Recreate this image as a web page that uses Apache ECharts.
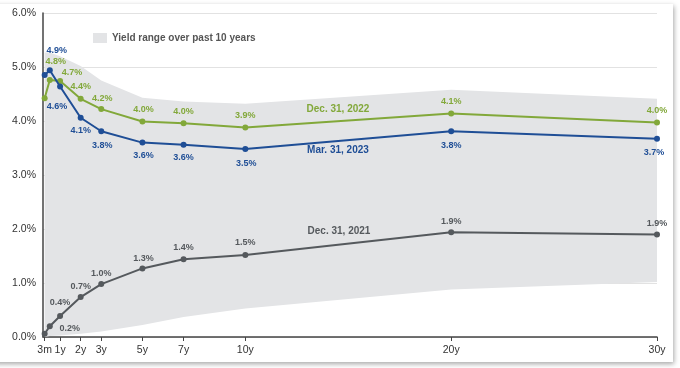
<!DOCTYPE html>
<html>
<head>
<meta charset="utf-8">
<script src="https://cdn.jsdelivr.net/npm/echarts@6/dist/echarts.min.js"></script>
<style>
html,body{margin:0;padding:0;background:#fff;}
#wrap{position:relative;width:680px;height:368px;overflow:hidden;}
#card{position:absolute;left:-10px;top:4px;width:683px;height:358px;background:#fff;box-shadow:1px 2px 5px rgba(0,0,0,0.35);}
#chart{position:absolute;left:0;top:0;width:680px;height:368px;}
</style>
</head>
<body>
<div id="wrap"><div id="card"></div><div id="chart"></div></div>
<script>
// Maturities in years
var maturities = [0.25, 0.5, 1, 2, 3, 5, 7, 10, 20, 30];
var xTickValues = [0.25, 1, 2, 3, 5, 7, 10, 20, 30];
var xTickLabels = ['3m', '1y', '2y', '3y', '5y', '7y', '10y', '20y', '30y'];

var mar2023 = [4.85, 4.94, 4.64, 4.06, 3.81, 3.60, 3.56, 3.48, 3.81, 3.67];
var dec2022 = [4.42, 4.76, 4.74, 4.41, 4.22, 3.99, 3.96, 3.88, 4.14, 3.97];
var dec2021 = [0.06, 0.20, 0.39, 0.74, 0.98, 1.27, 1.44, 1.52, 1.94, 1.90];

var rangeHigh = [5.27, 5.27, 5.20, 5.02, 4.75, 4.43, 4.36, 4.32, 4.58, 4.41];
var rangeLow  = [0.00, 0.02, 0.03, 0.06, 0.10, 0.22, 0.37, 0.53, 0.88, 1.02];

var seriesNames = ['Mar. 31, 2023', 'Dec. 31, 2022', 'Dec. 31, 2021'];
var bandName = 'Yield range over past 10 years';

// label placement (center offsets in px), null = no label
var blueLabelOffsets = [null, [7,-20], [-3,20], [0,13], [1,14], [1,13], [0,13], [1,14], [0,14], [-3,14]];
var greenLabelOffsets = [null, [6,-18], [12,-9], [0,-12], [1,-11], [1,-12], [0,-12], [0,-12], [0,-12], [0,-12]];
var grayLabelOffsets = [null, [20,2], [0,-13], [0,-11], [0,-11], [1,-10], [0,-12], [0,-12], [0,-11], [0,-11]];

// series name annotation anchors [x in years, y in %]
var nameAnchors = [[14.5, 3.46], [14.5, 4.22], [14.55, 1.96]];

var BLUE = '#1f4e96', GREEN = '#82a83a', GRAY = '#55595d', BAND = '#e3e4e6';
var FONT = 'Liberation Sans, Arial, sans-serif';

function buildData(vals, offs, color) {
  return maturities.map(function (m, i) {
    var o = offs[i];
    var d = { value: [m, vals[i]] };
    if (o) {
      d.label = { show: true, position: 'inside', offset: o, formatter: vals[i].toFixed(1) + '%',
        color: color, fontSize: 9, fontWeight: 'bold', fontFamily: FONT };
    } else {
      d.label = { show: false };
    }
    return d;
  });
}

function lineSeries(name, vals, offs, color, anchor, z) {
  return {
    type: 'line', name: name, z: z,
    data: buildData(vals, offs, color),
    symbol: 'circle', symbolSize: 6,
    lineStyle: { color: color, width: 2 },
    itemStyle: { color: color },
    emphasis: { disabled: true },
    animation: false,
    markPoint: {
      symbol: 'circle', symbolSize: 0, silent: true, animation: false,
      data: [{ coord: anchor }],
      label: { show: true, position: 'inside', formatter: name, color: color,
        fontSize: 10, fontWeight: 'bold', fontFamily: FONT }
    }
  };
}

var chart = echarts.init(document.getElementById('chart'), null, { renderer: 'canvas' });
chart.setOption({
  animation: false,
  grid: { left: 43, right: 23, top: 13, bottom: 31 },
  legend: {
    left: 88, top: 28, itemWidth: 14, itemHeight: 10, itemGap: 10,
    data: [{ name: bandName, icon: 'rect', itemStyle: { color: BAND } }],
    textStyle: { color: '#555', fontSize: 10, fontWeight: 'bold', fontFamily: FONT },
    selectedMode: false
  },
  xAxis: {
    type: 'value', min: 0.17, max: 30,
    axisLine: { show: true, lineStyle: { color: '#444', width: 1.5 } },
    axisTick: { show: true, customValues: xTickValues, length: 4, lineStyle: { color: '#444' } },
    axisLabel: {
      customValues: xTickValues, margin: 8, color: '#333', fontSize: 10.5, fontFamily: FONT,
      formatter: function (v) { var i = xTickValues.indexOf(v); return i >= 0 ? xTickLabels[i] : ''; }
    },
    splitLine: { show: false }
  },
  yAxis: {
    type: 'value', min: 0, max: 6, interval: 1,
    axisLine: { show: true, lineStyle: { color: '#444', width: 1.5 } },
    axisTick: { show: false },
    axisLabel: { margin: 7, color: '#333', fontSize: 10.5, fontFamily: FONT,
      formatter: function (v) { return v.toFixed(1) + '%'; } },
    splitLine: { show: true, lineStyle: { color: '#e2e2e2', width: 1 } }
  },
  series: [
    {
      type: 'custom', name: bandName, silent: true, z: 1,
      itemStyle: { color: BAND },
      data: maturities.map(function (m, i) { return [m, rangeLow[i], rangeHigh[i]]; }),
      encode: { x: 0, y: [1, 2] },
      renderItem: function (params, api) {
        if (params.dataIndex !== 0) return null;
        var pts = [];
        for (var i = 0; i < maturities.length; i++) pts.push(api.coord([maturities[i], rangeHigh[i]]));
        for (var j = maturities.length - 1; j >= 0; j--) pts.push(api.coord([maturities[j], rangeLow[j]]));
        return { type: 'polygon', shape: { points: pts }, style: { fill: BAND } };
      }
    },
    lineSeries(seriesNames[2], dec2021, grayLabelOffsets, GRAY, nameAnchors[2], 3),
    lineSeries(seriesNames[1], dec2022, greenLabelOffsets, GREEN, nameAnchors[1], 4),
    lineSeries(seriesNames[0], mar2023, blueLabelOffsets, BLUE, nameAnchors[0], 5)
  ]
});
</script>
</body>
</html>
